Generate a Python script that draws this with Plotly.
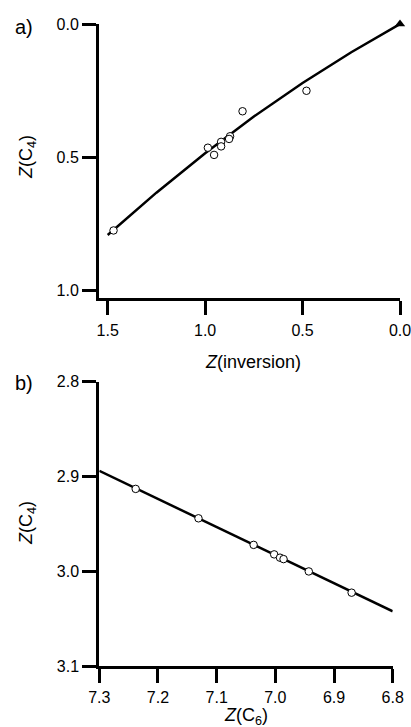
import plotly.graph_objects as go

# Panel a data
a_pts_x = [1.47, 0.986, 0.954, 0.918, 0.918, 0.872, 0.877, 0.808, 0.48]
a_pts_y = [0.776, 0.465, 0.492, 0.443, 0.460, 0.422, 0.432, 0.328, 0.251]
a_fit_x = [1.5, 1.25, 1.0, 0.75, 0.5, 0.25, 0.0]
a_fit_y = [0.793, 0.634, 0.486, 0.348, 0.222, 0.106, 0.0]
a_tri_x = [0.0]
a_tri_y = [0.0]
a_xticks = [1.5, 1.0, 0.5, 0.0]
a_yticks = [0.0, 0.5, 1.0]

# Panel b data
b_pts_x = [7.238, 7.131, 7.037, 7.002, 6.992, 6.986, 6.943, 6.870]
b_pts_y = [2.913, 2.944, 2.972, 2.982, 2.9855, 2.987, 3.000, 3.0224]
b_fit_x = [7.3, 6.8]
b_fit_y = [2.894, 3.042]
b_xticks = [7.3, 7.2, 7.1, 7.0, 6.9, 6.8]
b_yticks = [2.8, 2.9, 3.0, 3.1]

W, H = 411, 727
FONT = "Liberation Sans, Arial, sans-serif"

fig = go.Figure()
fig.add_trace(go.Scatter(x=a_fit_x, y=a_fit_y, mode="lines",
                         line=dict(color="black", width=2.5),
                         xaxis="x", yaxis="y", showlegend=False, cliponaxis=False))
fig.add_trace(go.Scatter(x=a_pts_x, y=a_pts_y, mode="markers",
                         marker=dict(symbol="circle", size=7.5, color="white",
                                     line=dict(color="black", width=1)),
                         xaxis="x", yaxis="y", showlegend=False, cliponaxis=False))
fig.add_trace(go.Scatter(x=a_tri_x, y=a_tri_y, mode="markers",
                         marker=dict(symbol="triangle-up", size=9, color="black"),
                         xaxis="x", yaxis="y", showlegend=False, cliponaxis=False))
fig.add_trace(go.Scatter(x=b_fit_x, y=b_fit_y, mode="lines",
                         line=dict(color="black", width=2.5),
                         xaxis="x2", yaxis="y2", showlegend=False, cliponaxis=False))
fig.add_trace(go.Scatter(x=b_pts_x, y=b_pts_y, mode="markers",
                         marker=dict(symbol="circle", size=7.5, color="white",
                                     line=dict(color="black", width=1)),
                         xaxis="x2", yaxis="y2", showlegend=False, cliponaxis=False))

axis_common = dict(showline=True, linecolor="black", linewidth=3,
                   ticks="outside", ticklen=14, tickwidth=3, tickcolor="black",
                   showgrid=False, zeroline=False, automargin=False,
                   ticklabeloverflow="allow",
                   tickfont=dict(family=FONT, size=16, color="black"))

def px_x(p):
    return p / W

def px_y(p):
    return 1 - p / H

fig.update_layout(
    template="none",
    width=W, height=H,
    margin=dict(l=0, r=0, t=0, b=0, autoexpand=False),
    plot_bgcolor="white", paper_bgcolor="white",
    xaxis=dict(domain=[px_x(99), px_x(400)], range=[1.5446, 0.0],
               tickvals=a_xticks, ticktext=["1.5", "1.0", "0.5", "0.0"],
               ticklabelstandoff=2,
               anchor="y", **axis_common),
    yaxis=dict(domain=[px_y(297.5), px_y(24)], range=[1.028, 0.0],
               tickvals=a_yticks, ticktext=["0.0", "0.5", "1.0"],
               anchor="x", **axis_common),
    xaxis2=dict(domain=[px_x(99.3), px_x(392.7)], range=[7.3, 6.8],
                tickvals=b_xticks, ticktext=["7.3", "7.2", "7.1", "7.0", "6.9", "6.8"],
                anchor="y2", **axis_common),
    yaxis2=dict(domain=[px_y(666.3), px_y(381.7)], range=[3.1, 2.8],
                tickvals=b_yticks, ticktext=["2.8", "2.9", "3.0", "3.1"],
                anchor="x2", **axis_common),
)

def ann(text, x, y, size=18, angle=0):
    fig.add_annotation(text=text, x=px_x(x), y=px_y(y), xref="paper", yref="paper",
                       showarrow=False, xanchor="center", yanchor="middle",
                       textangle=angle,
                       font=dict(family=FONT, size=size, color="black"))

ann("a)", 24, 27, size=20)
ann("b)", 24, 383, size=20)
ann("<i>Z</i>(inversion)", 253, 362)
ann("<i>Z</i>(C<sub>6</sub>)", 246, 716)
ann("<i>Z</i>(C<sub>4</sub>)", 27, 157, angle=-90)
ann("<i>Z</i>(C<sub>4</sub>)", 27, 523, angle=-90)

fig.write_html("out.html")
